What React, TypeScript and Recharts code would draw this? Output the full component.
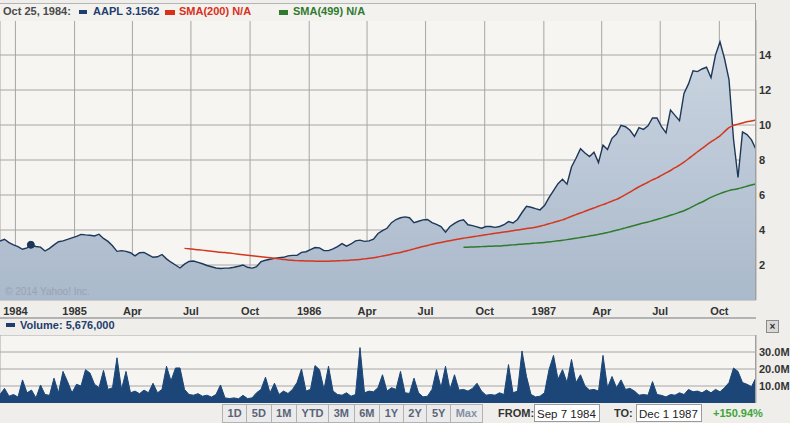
import React from "react";
import {
  ComposedChart,
  Area,
  Line,
  XAxis,
  YAxis,
  CartesianGrid,
  ReferenceDot,
} from "recharts";

// Weekly closes starting Sep 7 1984 (week index i -> day i*7)
const closes = [
  3.37, 3.47, 3.28, 3.15, 3.05, 2.9, 2.98, 3.13, 3.06, 3.02,
  2.8, 2.95, 3.15, 3.33, 3.38, 3.46, 3.55, 3.64, 3.75, 3.72,
  3.7, 3.66, 3.76, 3.52, 3.35, 3.1, 2.78, 2.82, 2.78, 2.7,
  2.52, 2.7, 2.72, 2.58, 2.44, 2.47, 2.6, 2.35, 2.16, 2.0,
  1.83, 2.05, 2.2, 2.23, 2.15, 2.07, 1.97, 1.9, 1.83, 1.8,
  1.82, 1.83, 1.87, 1.93, 2.0, 1.87, 1.82, 1.9, 2.19, 2.27,
  2.33, 2.38, 2.42, 2.44, 2.52, 2.55, 2.55, 2.72, 2.76, 2.88,
  3.0, 2.98, 2.82, 2.82, 2.92, 3.05, 3.22, 3.08, 3.2, 3.38,
  3.42, 3.35, 3.38, 3.48, 3.8, 3.96, 4.1, 4.42, 4.6, 4.7,
  4.75, 4.7, 4.42, 4.5, 4.58, 4.6, 4.42, 4.32, 4.2, 3.88,
  4.2, 4.38, 4.52, 4.58, 4.3, 4.25, 4.18, 4.1, 4.2, 4.2,
  4.15, 4.2, 4.3, 4.48, 4.4, 4.6, 5.0, 5.35, 5.3, 5.22,
  5.15, 5.4, 5.85, 6.25, 6.65, 6.9, 6.62, 7.6, 8.1, 8.65,
  8.4, 8.2, 8.45, 7.85, 8.85, 8.6, 9.24, 9.48, 9.98, 9.9,
  9.7, 9.35, 9.85, 9.75, 9.95, 10.4, 10.4, 9.9, 9.55, 10.85,
  10.55, 10.25, 11.8, 12.35, 13.1, 13.05, 13.2, 13.3, 12.7, 14.0,
  14.75, 13.8, 12.6, 9.2, 7.0, 9.6, 9.45, 9.15, 8.6,
];

const sma200Start = 41;
const sma200 = [
  2.95, 2.93, 2.9, 2.87, 2.85, 2.82, 2.79, 2.76, 2.73, 2.71,
  2.68, 2.65, 2.62, 2.59, 2.56, 2.53, 2.5, 2.47, 2.44, 2.41,
  2.38, 2.35, 2.32, 2.29, 2.27, 2.25, 2.24, 2.23, 2.23, 2.22,
  2.22, 2.22, 2.22, 2.23, 2.24, 2.25, 2.26, 2.28, 2.3, 2.32,
  2.35, 2.38, 2.42, 2.46, 2.51, 2.56, 2.62, 2.67, 2.72, 2.78,
  2.85, 2.92, 2.99, 3.06, 3.12, 3.18, 3.24, 3.29, 3.34, 3.39,
  3.44, 3.49, 3.53, 3.57, 3.61, 3.65, 3.69, 3.73, 3.77, 3.81,
  3.84, 3.88, 3.92, 3.96, 4.0, 4.04, 4.08, 4.12, 4.16, 4.22,
  4.28, 4.36, 4.43, 4.5, 4.58, 4.68, 4.78, 4.88, 4.97, 5.07,
  5.17, 5.26, 5.36, 5.45, 5.55, 5.65, 5.75, 5.88, 6.02, 6.17,
  6.32, 6.47, 6.6, 6.73, 6.86, 6.98, 7.12, 7.26, 7.4, 7.56,
  7.71, 7.88, 8.07, 8.27, 8.47, 8.66, 8.85, 9.03, 9.2, 9.38,
  9.62, 9.85, 9.98, 10.05, 10.12, 10.18, 10.23, 10.28,
];

const sma499Start = 103;
const sma499 = [
  3.01, 3.02, 3.03, 3.04, 3.05, 3.06, 3.07, 3.08, 3.09, 3.11,
  3.13, 3.15, 3.17, 3.19, 3.21, 3.23, 3.25, 3.27, 3.29, 3.32,
  3.35, 3.38, 3.41, 3.45, 3.49, 3.53, 3.57, 3.61, 3.66, 3.7,
  3.75, 3.8, 3.86, 3.92, 3.99, 4.05, 4.12, 4.19, 4.26, 4.33,
  4.4, 4.46, 4.53, 4.6, 4.68, 4.76, 4.84, 4.92, 5.01, 5.1,
  5.22, 5.35, 5.48, 5.6, 5.73, 5.86, 5.98, 6.08, 6.17, 6.25,
  6.31, 6.36, 6.43, 6.5, 6.57, 6.63,
];

// Weekly volume, millions of shares
const volumeM = [
  5, 8.6, 4, 5, 3.5, 13.6, 6, 7.6, 3, 10.6,
  5, 4.5, 14.6, 6, 18.6, 12.6, 6, 11, 10, 19.6,
  17.6, 11, 9, 19.2, 8, 9, 26.6, 8, 18.6, 6,
  7, 5.5, 7.6, 6, 11.6, 6, 8, 21.6, 13, 20.6,
  20.6, 8, 5, 4.6, 5.5, 4, 4.6, 3.5, 5, 10.6,
  3, 2.6, 3, 2.5, 4.5, 2.6, 3, 6, 8, 15.2,
  6, 11.6, 5, 7, 5.6, 8, 12, 20, 7, 8,
  22, 19.6, 8, 21.6, 7, 5, 4.6, 6, 4, 5,
  32.6, 6, 7, 6.6, 9, 16.6, 7, 9, 8, 18.6,
  6, 5.6, 14.6, 6, 3.6, 4, 8, 19.6, 9, 21.6,
  8, 16.6, 7.6, 8, 7, 8.6, 11.6, 7, 4.6, 5,
  4.6, 6, 5, 22.6, 6, 7, 30.6, 15.6, 5, 3.6,
  4, 6, 19.6, 28, 14, 19.6, 12, 25.6, 12, 16.6,
  10, 7.6, 8, 7, 28, 9, 15.6, 9, 13.6, 8,
  8.6, 7, 4.6, 5, 4.6, 12.6, 5, 4.5, 3.6, 5,
  4.6, 6, 5, 8, 6.6, 7, 6, 7.6, 6, 8,
  6.6, 9, 12, 20.6, 18.6, 12, 11, 9.6, 15,
];

const quarterDays = [24, 116, 206, 297, 389, 481, 571, 662, 754, 846, 936, 1027, 1119];
const quarterLabels = ["1984", "1985", "Apr", "Jul", "Oct", "1986", "Apr", "Jul", "Oct", "1987", "Apr", "Jul", "Oct"];
const priceTicks = [0, 2, 4, 6, 8, 10, 12, 14, 16];
const volumeTicks = [0, 10e6, 20e6, 30e6, 40e6];
const rangeButtons = ["1D", "5D", "1M", "YTD", "3M", "6M", "1Y", "2Y", "5Y", "Max"];

const markerDay = 48; // Oct 25, 1984
const markerPrice = 3.1562;

const data = closes.map((c, i) => ({
  day: i * 7,
  price: c,
  sma200: i >= sma200Start ? sma200[i - sma200Start] : null,
  sma499: i >= sma499Start ? sma499[i - sma499Start] : null,
  volume: volumeM[i] * 1e6,
}));

const FONT = '"Liberation Sans", Arial, sans-serif';
const NAVY = "#1d3759";
const RED = "#d5361d";
const GREEN = "#2e7b2e";
const GRID = "#a6a6a6";

const PriceTick = (props: any) => {
  const { x, y, payload } = props;
  if (payload.value === 0 || payload.value === 16) return <g />;
  return (
    <text x={x} y={y + 4} fill="#333" fontSize={11} fontWeight="bold" fontFamily={FONT} textAnchor="start">
      {payload.value}
    </text>
  );
};

const VolumeTick = (props: any) => {
  const { x, y, payload } = props;
  if (payload.value === 0 || payload.value === 40e6) return <g />;
  return (
    <text x={x} y={y + 4} fill="#333" fontSize={11} fontWeight="bold" fontFamily={FONT} textAnchor="start">
      {(payload.value / 1e6).toFixed(1) + "M"}
    </text>
  );
};

const DateTick = (props: any) => {
  const { x, y, payload } = props;
  const idx = quarterDays.indexOf(payload.value);
  return (
    <text x={x} y={y + 13} fill="#333" fontSize={11} fontWeight="bold" fontFamily={FONT} textAnchor="middle">
      {idx >= 0 ? quarterLabels[idx] : ""}
    </text>
  );
};

const legendText: React.CSSProperties = {
  position: "absolute",
  top: 5,
  fontSize: 11,
  fontWeight: "bold",
  fontFamily: FONT,
  whiteSpace: "nowrap",
  lineHeight: "13px",
};

export default function App() {
  return (
    <div
      style={{
        position: "absolute",
        left: 0,
        top: 0,
        width: 790,
        height: 423,
        overflow: "hidden",
        background: "#efeeea",
        fontFamily: FONT,
      }}
    >
      {/* price panel */}
      <div style={{ position: "absolute", left: 0, top: 0 }}>
        <ComposedChart width={790} height={318} data={data} margin={{ top: 20, right: 0, left: 0, bottom: 0 }}>
          <defs>
            <linearGradient id="priceFill" x1="0" y1="0" x2="0" y2="1">
              <stop offset="0%" stopColor="#cbd5e1" />
              <stop offset="100%" stopColor="#aab9cb" />
            </linearGradient>
          </defs>
          <CartesianGrid stroke={GRID} fill="#f6f5f2" />
          <XAxis
            type="number"
            dataKey="day"
            domain={[0, 1176]}
            ticks={quarterDays}
            interval={0}
            height={18}
            tickLine={false}
            axisLine={false}
            tickSize={0}
            tick={<DateTick />}
            allowDataOverflow
          />
          <YAxis
            orientation="right"
            width={34}
            domain={[0, 16]}
            ticks={priceTicks}
            interval={0}
            tickLine={false}
            axisLine={false}
            tickSize={0}
            tickMargin={3}
            tick={<PriceTick />}
            allowDataOverflow
          />
          <Area
            type="linear"
            dataKey="price"
            stroke={NAVY}
            strokeWidth={1.4}
            fill="url(#priceFill)"
            fillOpacity={1}
            isAnimationActive={false}
            dot={false}
            activeDot={false}
          />
          <Line type="monotone" dataKey="sma200" stroke={RED} strokeWidth={1.5} dot={false} isAnimationActive={false} connectNulls={false} />
          <Line type="monotone" dataKey="sma499" stroke={GREEN} strokeWidth={1.5} dot={false} isAnimationActive={false} connectNulls={false} />
          <ReferenceDot x={markerDay} y={markerPrice} r={3.5} fill={NAVY} stroke={NAVY} />
        </ComposedChart>
      </div>

      {/* legend band */}
      <div style={{ position: "absolute", left: 0, top: 3, width: 755, height: 17, background: "#f3f2ee", borderTop: "1px solid #b5b5b5" }} />
      <div style={{ position: "absolute", left: 755, top: 3, width: 1, height: 297, background: "#a0a0a0" }} />
      <div style={{ ...legendText, left: 3, color: "#4a4a4a" }}>Oct 25, 1984:</div>
      <div style={{ position: "absolute", left: 79, top: 10, width: 8, height: 4, background: "#1f3d6e" }} />
      <div style={{ ...legendText, left: 93, color: "#1f3d6e" }}>AAPL 3.1562</div>
      <div style={{ position: "absolute", left: 165, top: 10, width: 10, height: 5, background: "#d8301a" }} />
      <div style={{ ...legendText, left: 179, color: "#d8301a" }}>SMA(200) N/A</div>
      <div style={{ position: "absolute", left: 279, top: 10, width: 9, height: 5, background: "#2f7a2f" }} />
      <div style={{ ...legendText, left: 293, color: "#2f7a2f" }}>SMA(499) N/A</div>

      <div style={{ position: "absolute", left: 5, top: 286, fontSize: 10, color: "#97a3b3", fontFamily: FONT, whiteSpace: "nowrap" }}>
        © 2014 Yahoo! Inc.
      </div>

      {/* separator */}
      <div style={{ position: "absolute", left: 0, top: 317, width: 756, height: 2, background: "#b3b3b3" }} />

      {/* volume legend */}
      <div style={{ position: "absolute", left: 6, top: 323, width: 9, height: 4, background: "#1f3d6e" }} />
      <div style={{ ...legendText, top: 319, left: 20, color: "#1f3d6e" }}>Volume: 5,676,000</div>
      <div
        style={{
          position: "absolute",
          left: 766,
          top: 320,
          width: 11,
          height: 11,
          border: "1px solid #8a8a8a",
          background: "#d9d9d9",
          fontSize: 10,
          lineHeight: "11px",
          textAlign: "center",
          color: "#333",
          fontWeight: "bold",
        }}
      >
        ×
      </div>

      {/* volume panel */}
      <div style={{ position: "absolute", left: 0, top: 335 }}>
        <ComposedChart width={790} height={68} data={data} margin={{ top: 0, right: 0, left: 0, bottom: 0 }}>
          <CartesianGrid stroke={GRID} fill="#f6f5f2" />
          <XAxis
            type="number"
            dataKey="day"
            domain={[0, 1176]}
            ticks={quarterDays}
            interval={0}
            height={0}
            tick={false}
            tickLine={false}
            axisLine={false}
            allowDataOverflow
          />
          <YAxis
            orientation="right"
            width={34}
            domain={[0, 40e6]}
            ticks={volumeTicks}
            interval={0}
            tickLine={false}
            axisLine={false}
            tickSize={0}
            tickMargin={3}
            tick={<VolumeTick />}
            allowDataOverflow
          />
          <Area
            type="linear"
            dataKey="volume"
            stroke="#1b4677"
            strokeWidth={1}
            fill="#1b4677"
            fillOpacity={1}
            isAnimationActive={false}
            dot={false}
            activeDot={false}
          />
        </ComposedChart>
      </div>
      <div style={{ position: "absolute", left: 755, top: 335, width: 1, height: 68, background: "#a0a0a0" }} />

      {/* bottom toolbar */}
      <div style={{ position: "absolute", left: 222, top: 404, display: "flex" }}>
        {rangeButtons.map((b, i) => (
          <div
            key={b}
            style={{
              height: 17,
              lineHeight: "17px",
              padding: "0 4.6px",
              marginLeft: i === 0 ? 0 : -1,
              border: "1px solid #b2b2b2",
              background: "#ebebeb",
              fontSize: 11,
              fontWeight: "bold",
              color: b === "Max" ? "#8390a6" : "#5a6478",
              fontFamily: FONT,
            }}
          >
            {b}
          </div>
        ))}
      </div>
      <div style={{ position: "absolute", left: 498, top: 407, fontSize: 11, fontWeight: "bold", color: "#333", whiteSpace: "nowrap" }}>FROM:</div>
      <div
        style={{
          position: "absolute",
          left: 534,
          top: 404,
          width: 66,
          height: 18,
          border: "1px solid #9a9a9a",
          background: "#ffffff",
          fontSize: 11.5,
          lineHeight: "18px",
          paddingLeft: 2,
          color: "#222",
          boxSizing: "border-box",
          whiteSpace: "nowrap",
        }}
      >
        Sep 7 1984
      </div>
      <div style={{ position: "absolute", left: 614, top: 407, fontSize: 11, fontWeight: "bold", color: "#333", whiteSpace: "nowrap" }}>TO:</div>
      <div
        style={{
          position: "absolute",
          left: 636,
          top: 404,
          width: 66,
          height: 18,
          border: "1px solid #9a9a9a",
          background: "#ffffff",
          fontSize: 11.5,
          lineHeight: "18px",
          paddingLeft: 2,
          color: "#222",
          boxSizing: "border-box",
          whiteSpace: "nowrap",
        }}
      >
        Dec 1 1987
      </div>
      <div style={{ position: "absolute", left: 713, top: 407, fontSize: 11, fontWeight: "bold", color: "#3da53a", whiteSpace: "nowrap" }}>+150.94%</div>
    </div>
  );
}
